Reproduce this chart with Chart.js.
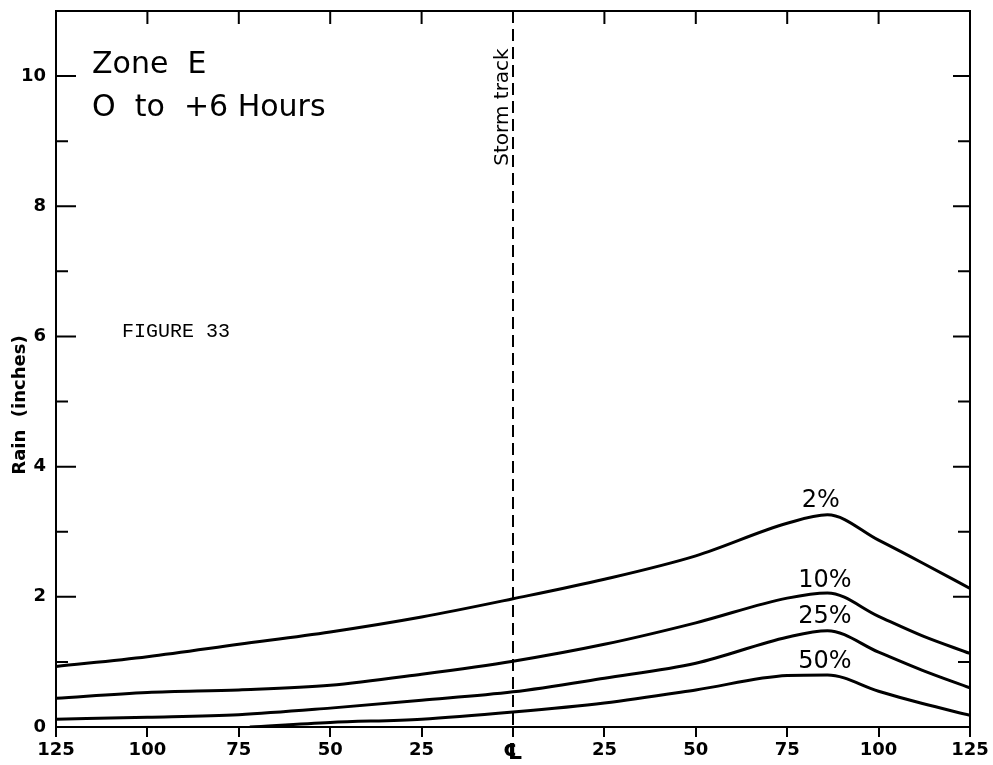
<!DOCTYPE html>
<html>
<head>
<meta charset="utf-8">
<script src="https://cdn.jsdelivr.net/npm/chart.js@4.4.1/dist/chart.umd.min.js"></script>
<style>
  html, body { margin: 0; padding: 0; background: #fff; }
  #wrap { width: 993px; height: 765px; }
</style>
</head>
<body>
<div id="wrap"><canvas id="c" width="993" height="765"></canvas></div>
<script>
// Distance from storm track (negative = left side), shared x positions
const xPositions = [-125, -100, -75, -50, -25, 0, 25, 50, 75, 86, 100, 112, 125];
const pct2  = [0.93, 1.08, 1.27, 1.46, 1.69, 1.97, 2.27, 2.63, 3.13, 3.26, 2.87, 2.52, 2.13];
const pct10 = [0.44, 0.53, 0.57, 0.64, 0.81, 1.01, 1.27, 1.60, 1.98, 2.06, 1.70, 1.40, 1.13];
const pct25 = [0.12, 0.15, 0.19, 0.29, 0.41, 0.54, 0.75, 0.98, 1.38, 1.48, 1.15, 0.87, 0.60];
const pct50X = [-72, -50, -25, 0, 25, 50, 75, 86, 100, 112, 125];
const pct50  = [0.00, 0.07, 0.12, 0.23, 0.37, 0.57, 0.79, 0.80, 0.55, 0.36, 0.18];

const seriesNames = ['2%', '10%', '25%', '50%'];
// label anchor positions (data coords): x, y
const labelX = [79, 78, 78, 78];
const labelY = [3.48, 2.25, 1.7, 1.0];

const xTickValues = [-125, -100, -75, -50, -25, 0, 25, 50, 75, 100, 125];
const yLabelValues = [0, 2, 4, 6, 8, 10];

function pts(xs, ys) { return xs.map((x, i) => ({ x: x, y: ys[i] })); }

const lineStyle = {
  borderColor: '#000', borderWidth: 3, pointRadius: 0, fill: false,
  cubicInterpolationMode: 'monotone'
};

const decor = {
  id: 'decor',
  afterDraw(chart) {
    const { ctx, chartArea: a, scales: { x, y } } = chart;
    ctx.save();
    ctx.strokeStyle = '#000';
    ctx.fillStyle = '#000';
    // frame: top and right
    ctx.lineWidth = 2;
    ctx.beginPath();
    ctx.moveTo(a.left, a.top);
    ctx.lineTo(a.right, a.top);
    ctx.lineTo(a.right, a.bottom);
    ctx.stroke();
    // inside ticks on left and right
    for (let v = 1; v <= 10; v++) {
      const py = y.getPixelForValue(v);
      const major = v % 2 === 0;
      ctx.beginPath();
      ctx.moveTo(a.left, py); ctx.lineTo(a.left + (major ? 20 : 12), py);
      ctx.moveTo(a.right, py); ctx.lineTo(a.right - (major ? 17 : 12), py);
      ctx.stroke();
    }
    // inside ticks on top
    xTickValues.forEach(v => {
      if (v === -125 || v === 125 || v === 0) return;
      const px = x.getPixelForValue(v);
      ctx.beginPath();
      ctx.moveTo(px, a.top); ctx.lineTo(px, a.top + 13);
      ctx.stroke();
    });
    // storm track dashed line
    const sx = x.getPixelForValue(0);
    ctx.setLineDash([12, 6]);
    ctx.lineWidth = 2;
    ctx.beginPath();
    ctx.moveTo(sx, a.top); ctx.lineTo(sx, a.bottom);
    ctx.stroke();
    ctx.setLineDash([]);
    // storm track label
    ctx.save();
    ctx.translate(sx - 10, 107);
    ctx.rotate(-Math.PI / 2);
    ctx.font = '20px "DejaVu Sans"';
    ctx.textAlign = 'center';
    ctx.textBaseline = 'middle';
    ctx.fillText('Storm track', 0, 0);
    ctx.restore();
    // y axis title
    ctx.save();
    ctx.translate(20, 405);
    ctx.rotate(-Math.PI / 2);
    ctx.font = 'bold 18px "DejaVu Sans"';
    ctx.textAlign = 'center';
    ctx.textBaseline = 'middle';
    ctx.fillText('Rain  (inches)', 0, 0);
    ctx.restore();
    // titles
    ctx.textAlign = 'left';
    ctx.textBaseline = 'alphabetic';
    ctx.font = '30px "DejaVu Sans"';
    ctx.fillText('Zone  E', 92, 73);
    ctx.fillText('O  to  +6 Hours', 92, 116);
    ctx.font = '20px "Liberation Mono"';
    ctx.fillText('FIGURE 33', 122, 337);
    // series labels
    ctx.font = '24px "DejaVu Sans"';
    ctx.textBaseline = 'middle';
    seriesNames.forEach((n, i) => {
      ctx.fillText(n, x.getPixelForValue(labelX[i]), y.getPixelForValue(labelY[i]));
    });
    ctx.restore();
  }
};

new Chart(document.getElementById('c'), {
  type: 'line',
  data: {
    datasets: [
      Object.assign({ label: seriesNames[0], data: pts(xPositions, pct2) }, lineStyle),
      Object.assign({ label: seriesNames[1], data: pts(xPositions, pct10) }, lineStyle),
      Object.assign({ label: seriesNames[2], data: pts(xPositions, pct25) }, lineStyle),
      Object.assign({ label: seriesNames[3], data: pts(pct50X, pct50) }, lineStyle)
    ]
  },
  options: {
    responsive: false,
    animation: false,
    layout: { padding: { top: 11, right: 23, left: 0, bottom: 0 } },
    plugins: { legend: { display: false }, tooltip: { enabled: false } },
    scales: {
      x: {
        type: 'linear', min: -125, max: 125,
        afterFit: s => { s.height = 38; s.paddingLeft = 0; s.paddingRight = 0; },
        afterBuildTicks: s => { s.ticks = xTickValues.map(v => ({ value: v })); },
        ticks: {
          autoSkip: false, maxRotation: 0, padding: 3, color: '#000',
          font: c => (c.tick && c.tick.value === 0)
            ? { family: '"DejaVu Sans"', size: 22, weight: 'bold' }
            : { family: '"DejaVu Sans"', size: 18, weight: 'bold' },
          callback: v => v === 0 ? '\u2104' : String(Math.abs(v))
        },
        grid: { drawOnChartArea: false, drawTicks: true, tickLength: 10, color: '#000', lineWidth: 2 },
        border: { display: true, color: '#000', width: 2 }
      },
      y: {
        type: 'linear', min: 0, max: 11,
        afterFit: s => { s.width = 56; s.paddingTop = 0; s.paddingBottom = 0; },
        afterBuildTicks: s => { s.ticks = yLabelValues.map(v => ({ value: v })); },
        ticks: {
          padding: 10, color: '#000',
          font: { family: '"DejaVu Sans"', size: 18, weight: 'bold' }
        },
        grid: { display: false, drawTicks: false },
        border: { display: true, color: '#000', width: 2 }
      }
    }
  },
  plugins: [decor]
});
</script>
</body>
</html>
